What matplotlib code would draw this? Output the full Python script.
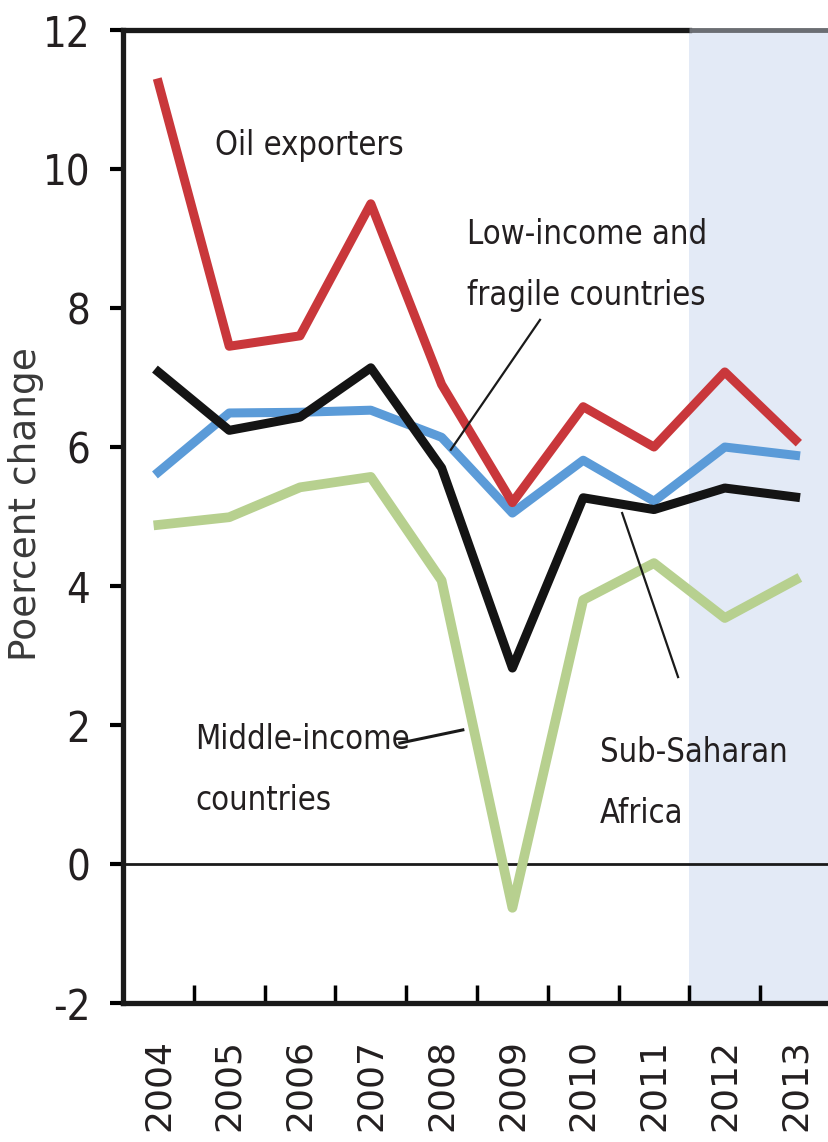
import matplotlib
matplotlib.use("Agg")
import matplotlib.pyplot as plt
from matplotlib import font_manager as fm
import numpy as np

# data
years = [2004, 2005, 2006, 2007, 2008, 2009, 2010, 2011, 2012, 2013]
oil_exporters = [11.24, 7.45, 7.6, 9.5, 6.9, 5.2, 6.58, 6.0, 7.08, 6.1]
low_income = [5.64, 6.49, 6.5, 6.53, 6.14, 5.05, 5.81, 5.22, 6.0, 5.88]
middle_income = [4.88, 4.99, 5.42, 5.57, 4.08, -0.63, 3.8, 4.33, 3.54, 4.09]
ssa = [7.08, 6.24, 6.43, 7.14, 5.7, 2.82, 5.27, 5.1, 5.41, 5.28]
y_ticks = [-2, 0, 2, 4, 6, 8, 10, 12]
projection_start = 2011.5


def narrow_font():
    """Look for a condensed face, fall back to plain DejaVu Sans."""
    tries = [('Liberation Sans Narrow', 'normal'),
             ('DejaVu Sans', 'condensed'),
             ('Noto Sans', 'condensed'),
             ('Roboto', 'condensed')]
    for fam, stretch in tries:
        try:
            path = fm.findfont(fm.FontProperties(family=fam, stretch=stretch),
                               fallback_to_default=False)
        except Exception:
            continue
        name = path.lower()
        if 'narrow' in name or 'condensed' in name:
            return fm.FontProperties(fname=path), True
    return fm.FontProperties(family='DejaVu Sans'), False


base_fp, is_narrow = narrow_font()
label_size = 23.5 if is_narrow else 21
tick_size = 30 if is_narrow else 26
# baseline-to-baseline distance of about 61 px in the reference
spacing = 61 / (0.9 * label_size * 100 / 72)
txt_color = '#231f20'


def fp(size):
    p = base_fp.copy()
    p.set_size(size)
    return p


fig = plt.figure(figsize=(8.29, 11.42), dpi=100)
ax = fig.add_axes([0.1484, 0.1217, 0.854, 0.852])

ax.axvspan(projection_start, years[-1] + 0.5, color='#e3eaf6', lw=0, zorder=0)
ax.axhline(0, color='#1a1a1a', lw=2, zorder=1)

ax.plot(years, middle_income, color='#b7d08f', lw=7, zorder=2)
ax.plot(years, low_income, color='#5b9bd8', lw=6.5, zorder=3)
ax.plot(years, oil_exporters, color='#c9373b', lw=6.5, zorder=4)
ax.plot(years, ssa, color='#141414', lw=6.5, zorder=5)

# leader lines
ax.plot([2009.39, 2008.13], [7.83, 5.96], color='#1a1a1a', lw=1.6, zorder=6)
ax.plot([2007.41, 2008.30], [1.74, 1.93], color='#1a1a1a', lw=2.2, zorder=6)
ax.plot([2010.55, 2011.34], [5.05, 2.69], color='#1a1a1a', lw=1.6, zorder=6)

# labels
ax.text(2004.80, 10.20, 'Oil exporters', fontproperties=fp(label_size),
        color=txt_color, va='baseline', ha='left', zorder=7)
ax.text(2008.36, 8.04, 'Low-income and\nfragile countries',
        fontproperties=fp(label_size), color=txt_color, va='baseline',
        ha='left', linespacing=spacing, zorder=7)
ax.text(2004.52, 0.78, 'Middle-income\ncountries',
        fontproperties=fp(label_size), color=txt_color, va='baseline',
        ha='left', linespacing=spacing, zorder=7)
ax.text(2010.24, 0.59, 'Sub-Saharan\nAfrica',
        fontproperties=fp(label_size), color=txt_color, va='baseline',
        ha='left', linespacing=spacing, zorder=7)

ax.set_xlim(years[0] - 0.5, years[-1] + 0.5)
ax.set_ylim(-2, 12)

ax.set_yticks(y_ticks)
ax.set_yticklabels([str(t) for t in y_ticks], fontproperties=fp(tick_size),
                   color=txt_color)
ax.tick_params(axis='y', direction='out', length=9.5, width=3, pad=14)

xfp = fm.FontProperties(family='DejaVu Sans', stretch='normal', size=26)
ax.set_xticks(years)
ax.set_xticklabels([str(y) for y in years], rotation=90, fontproperties=xfp,
                   color=txt_color)
ax.set_xticks(np.arange(years[0] + 0.5, years[-1], 1.0), minor=True)
ax.tick_params(axis='x', which='major', length=0, pad=26)
ax.tick_params(axis='x', which='minor', direction='in', length=13, width=2.5)

ax.set_ylabel('Poercent change', fontsize=27, family='DejaVu Sans',
              color='#3a3a3a')
ax.yaxis.set_label_coords(-0.112, 0.513)

for side in ['left', 'bottom', 'top']:
    ax.spines[side].set_linewidth(3.8)
    ax.spines[side].set_color('#1a1a1a')
ax.spines['right'].set_visible(False)
ax.spines['top'].set_bounds(years[0] - 0.5, projection_start)
# the top edge over the shaded area is a softer grey
ax.plot([projection_start, years[-1] + 0.5], [12, 12], color='#6b6e73',
        lw=3.5, clip_on=False, zorder=8, solid_capstyle='butt')

fig.savefig('out.png', dpi=100)
